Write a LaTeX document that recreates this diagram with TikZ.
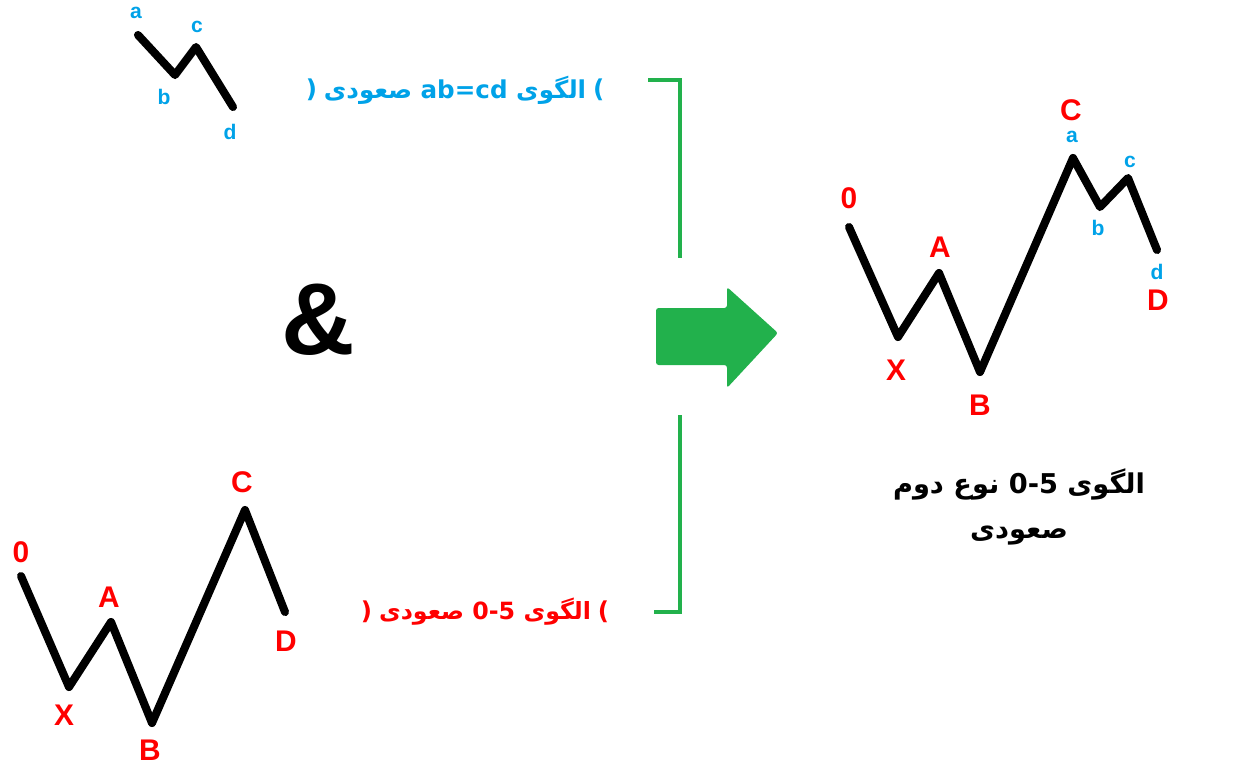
\documentclass[tikz,border=0pt]{standalone}
\usepackage{fontspec}
\setmainfont{Liberation Sans}
\newfontfamily\persfont[Script=Arabic]{DejaVu Sans}
\TeXXeTstate=1
\usetikzlibrary{positioning}

\definecolor{wblue}{RGB}{0,162,232}
\definecolor{wred}{RGB}{255,0,0}
\definecolor{wgreen}{RGB}{34,177,76}

\begin{document}
\begin{tikzpicture}[x=0.02cm, y=-0.02cm,
  wave/.style={line width=4.6pt, line join=round, line cap=round},
  bigtag/.style={text=wred, font=\fontsize{17}{17}\selectfont\bfseries, inner sep=0pt},
  smalltag/.style={text=wblue, font=\fontsize{12}{12}\selectfont\bfseries, inner sep=0pt},
  farsi/.style={font=\fontsize{14}{14}\selectfont\persfont\bfseries, inner sep=0pt},
  bracket/.style={draw=wgreen, line width=2.8pt}
]
\useasboundingbox (0,0) rectangle (1250,765);

% small ab=cd leg
\coordinate (sa) at (138,35);
\coordinate (sb) at (175,75);
\coordinate (sc) at (196,47);
\coordinate (sd) at (233,107);
\draw[wave] (sa) -- (sb) -- (sc) -- (sd);
\node[smalltag] (ta) at (136,13) {a};
\node[smalltag] (tb) at (164,97) {b};
\node[smalltag] (tc) at (197,27) {c};
\node[smalltag] (td) at (230,132) {d};

\node[font=\fontsize{58}{58}\selectfont\bfseries, inner sep=0pt] (amp) at (318,320) {\&};

% 0-5 pattern, bottom left
\coordinate (l0) at (21,576);
\coordinate (lX) at (69,687);
\coordinate (lA) at (111,622);
\coordinate (lB) at (152,723);
\coordinate (lC) at (245,510);
\coordinate (lD) at (285,612);
\draw[wave] (l0) -- (lX) -- (lA) -- (lB) -- (lC) -- (lD);
\node[bigtag] (u0) at (21,552) {0};
\node[bigtag] (uX) at (64,715) {X};
\node[bigtag] (uA) at (109,597) {A};
\node[bigtag] (uB) at (150,750) {B};
\node[bigtag] (uC) at (242,482) {C};
\node[bigtag] (uD) at (286,641) {D};

% names of the two legs
\node[farsi, text=wblue] (abcdname) at (455,90)
  {\beginR الگوی \beginL ab=cd\endL{} صعودی\endR};
\node[farsi, text=wblue, left=3.5pt of abcdname] (abcdopen) {(};
\node[farsi, text=wblue, right=3.5pt of abcdname] (abcdclose) {)};
\node[farsi, font=\fontsize{13.5}{13.5}\selectfont\persfont\bfseries, text=wred] (fivename) at (485,612)
  {\beginR الگوی \beginL 0-5\endL{} صعودی\endR};
\node[farsi, text=wred, left=3.5pt of fivename] (fiveopen) {(};
\node[farsi, text=wred, right=3.5pt of fivename] (fiveclose) {)};

% brackets and arrow
\coordinate (k1) at (648,80);
\coordinate (k2) at (680,80);
\coordinate (k3) at (680,258);
\coordinate (k4) at (680,415);
\coordinate (k5) at (680,612);
\coordinate (k6) at (654,612);
\draw[bracket] (k1) -- (k2) -- (k3);
\draw[bracket] (k4) -- (k5) -- (k6);
\fill[wgreen, rounded corners=1.5pt] (656,308) -- (727,308) -- (727,287) -- (778,333)
  -- (727,388) -- (727,365) -- (656,365) -- cycle;

% combined pattern, right
\coordinate (r0) at (849,227);
\coordinate (rX) at (898,337);
\coordinate (rA) at (939,273);
\coordinate (rB) at (980,372);
\coordinate (rC) at (1073,158);
\coordinate (rb) at (1100,207);
\coordinate (rc) at (1128,178);
\coordinate (rd) at (1157,250);
\draw[wave] (r0) -- (rX) -- (rA) -- (rB) -- (rC) -- (rb) -- (rc) -- (rd);
\node[bigtag] (v0) at (849,198) {0};
\node[bigtag] (vX) at (896,370) {X};
\node[bigtag] (vA) at (940,247) {A};
\node[bigtag] (vB) at (980,405) {B};
\node[bigtag] (vC) at (1071,110) {C};
\node[bigtag] (vD) at (1158,300) {D};
\node[smalltag] (wa) at (1072,137) {a};
\node[smalltag] (wb) at (1098,228) {b};
\node[smalltag] (wc) at (1130,162) {c};
\node[smalltag] (wd) at (1157,272) {d};

\node[farsi, font=\fontsize{15.5}{25.5}\selectfont\persfont\bfseries, align=center] (resultname) at (1019,507)
  {\beginR الگوی \beginL 0-5\endL{} نوع دوم\endR\\
   \beginR صعودی\endR};
\end{tikzpicture}
\end{document}
